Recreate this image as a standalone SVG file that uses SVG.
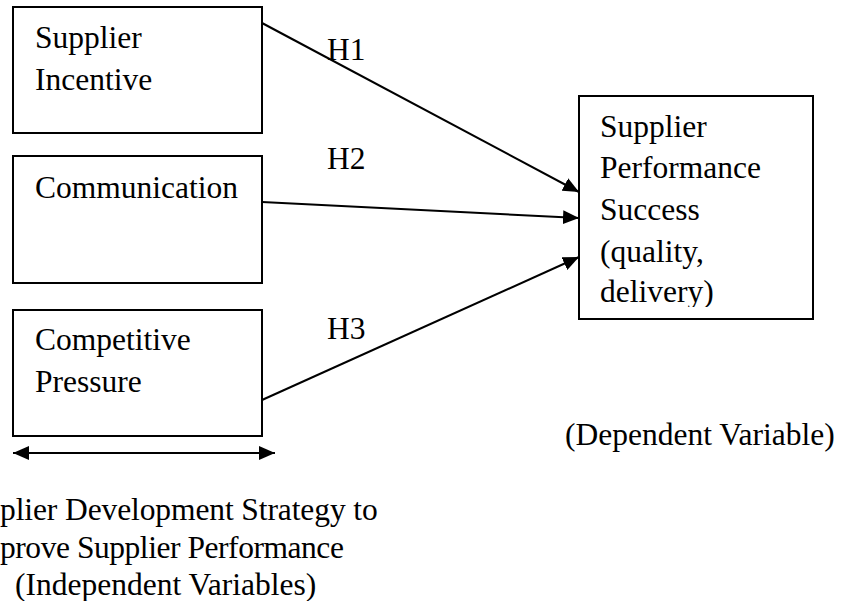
<svg xmlns="http://www.w3.org/2000/svg" width="847" height="601" viewBox="0 0 847 601">
<style>
.box{fill:#fff;stroke:#000;stroke-width:2}
.t{font-family:"Liberation Serif","Times New Roman",serif;font-size:31.5px;fill:#000}
.c{stroke:#000;stroke-width:2;fill:none}
</style>
<defs>
<marker id="ah" viewBox="0 0 16 14" refX="16" refY="7" markerWidth="16" markerHeight="14" markerUnits="userSpaceOnUse" orient="auto-start-reverse">
<path d="M0,0 L16,7 L0,14 Z" fill="#000"/>
</marker>
<clipPath id="dvclip"><rect x="579" y="96" width="234" height="211"/></clipPath>
</defs>
<rect width="847" height="601" fill="#fff"/>
<g id="connectors">
<line class="c" x1="262" y1="23" x2="579" y2="192" marker-end="url(#ah)"/>
<line class="c" x1="262" y1="202" x2="579" y2="218" marker-end="url(#ah)"/>
<line class="c" x1="262" y1="400" x2="579" y2="257" marker-end="url(#ah)"/>
<line class="c" x1="13" y1="453" x2="275" y2="453" marker-start="url(#ah)" marker-end="url(#ah)"/>
<text class="t" x="327" y="60">H1</text>
<text class="t" x="327" y="169">H2</text>
<text class="t" x="327" y="339">H3</text>
</g>
<g id="supplier-incentive">
<rect class="box" x="13" y="7" width="249" height="126"/>
<text class="t" x="35" y="48">Supplier</text>
<text class="t" x="35" y="90">Incentive</text>
</g>
<g id="communication">
<rect class="box" x="13" y="156" width="249" height="127"/>
<text class="t" x="35" y="198">Communication</text>
</g>
<g id="competitive-pressure">
<rect class="box" x="13" y="310" width="249" height="126"/>
<text class="t" x="35" y="350">Competitive</text>
<text class="t" x="35" y="392">Pressure</text>
</g>
<g id="supplier-performance">
<rect class="box" x="579" y="96" width="234" height="223"/>
<g clip-path="url(#dvclip)">
<text class="t" x="600" y="137">Supplier</text>
<text class="t" x="600" y="178">Performance</text>
<text class="t" x="600" y="220">Success</text>
<text class="t" x="600" y="262">(quality,</text>
<text class="t" x="600" y="302">delivery)</text>
</g>
</g>
<g id="dependent-label">
<text class="t" x="565" y="445">(Dependent Variable)</text>
</g>
<g id="independent-label">
<text class="t" x="0" y="520" letter-spacing="-0.1">plier Development Strategy to</text>
<text class="t" x="0" y="558" letter-spacing="-0.45">prove Supplier Performance</text>
<text class="t" x="15" y="595">(Independent Variables)</text>
</g>
</svg>
